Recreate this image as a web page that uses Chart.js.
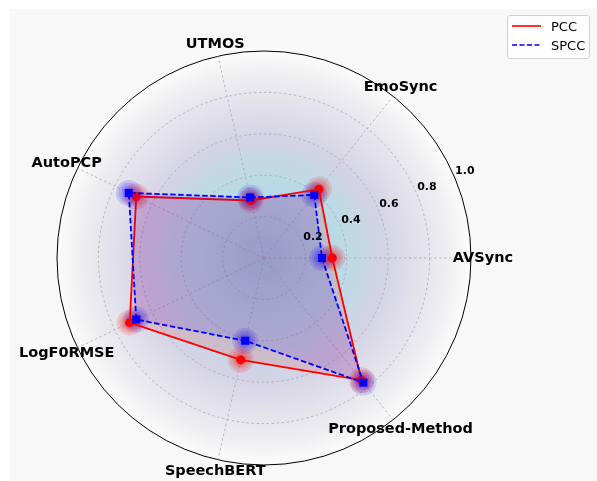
<!DOCTYPE html>
<html>
<head>
<meta charset="utf-8">
<script src="https://cdn.jsdelivr.net/npm/chart.js@4.4.0/dist/chart.umd.min.js"></script>
<style>
  html, body { margin: 0; padding: 0; background: #ffffff; }
  #wrap { position: relative; width: 597px; height: 481px; }
  #legend {
    position: absolute; left: 507px; top: 15px; width: 81px; height: 42px;
    border: 1px solid #d0d0d0; border-radius: 3px; background: rgba(255,255,255,0.85);
    font-family: "DejaVu Sans", sans-serif; font-size: 13px; color: #000;
  }
  .row { position: absolute; left: 4px; height: 16px; display: flex; align-items: center; }
  .row span { margin-left: 10px; }
</style>
</head>
<body>
<div id="wrap">
  <canvas id="radar" width="597" height="481"></canvas>
  <div id="legend">
    <div class="row" style="top:2px"><svg width="29" height="4"><line x1="0" y1="2" x2="29" y2="2" stroke="#ff0000" stroke-width="1.6"/></svg><span>PCC</span></div>
    <div class="row" style="top:21px"><svg width="29" height="4"><line x1="0" y1="2" x2="29" y2="2" stroke="#0000ff" stroke-width="1.6" stroke-dasharray="5,2.5"/></svg><span>SPCC</span></div>
  </div>
</div>
<script>
// categories listed clockwise starting at the right (Chart.js draws clockwise)
const categories = ['AVSync', 'Proposed-Method', 'SpeechBERT', 'LogF0RMSE', 'AutoPCP', 'UTMOS', 'EmoSync'];
const pccValues  = [0.33, 0.755, 0.505, 0.72, 0.685, 0.285, 0.425];
const spccValues = [0.28, 0.77, 0.41, 0.685, 0.725, 0.30, 0.39];
const tickValues = [0.2, 0.4, 0.6, 0.8, 1.0];
const tickLabels = ['0.2', '0.4', '0.6', '0.8', '1.0'];

// glow layers behind the markers
function glowSets(values, rgb, baseOrder) {
    return [13, 10.5, 8, 6].map((r, i) => ({
        label: 'glow',
        data: values,
        showLine: false,
        fill: false,
        borderColor: 'rgba(0,0,0,0)',
        borderWidth: 0,
        pointRadius: r,
        pointBorderWidth: 0,
        pointBackgroundColor: `rgba(${rgb},0.13)`,
        order: baseOrder + i
    }));
}

// background, gradient disc, labels
const decorPlugin = {
    id: 'decor',
    beforeDraw(chart) {
        const ctx = chart.ctx;
        const s = chart.scales.r;
        ctx.save();
        ctx.fillStyle = '#f8f8f8';
        ctx.fillRect(10, 9, 587, 472);
        const g = ctx.createRadialGradient(s.xCenter, s.yCenter, 0, s.xCenter, s.yCenter, s.drawingArea);
        g.addColorStop(0.0, 'rgb(160,204,220)');
        g.addColorStop(0.3, 'rgb(180,217,229)');
        g.addColorStop(0.42, 'rgb(190,218,229)');
        g.addColorStop(0.58, 'rgb(212,211,229)');
        g.addColorStop(0.76, 'rgb(228,226,234)');
        g.addColorStop(0.9, 'rgb(240,240,242)');
        g.addColorStop(1.0, 'rgb(252,252,252)');
        ctx.fillStyle = g;
        ctx.beginPath();
        ctx.arc(s.xCenter, s.yCenter, s.drawingArea, 0, Math.PI * 2);
        ctx.fill();
        ctx.restore();
    },
    afterDraw(chart) {
        const ctx = chart.ctx;
        const s = chart.scales.r;
        ctx.save();
        ctx.fillStyle = '#000';
        ctx.textAlign = 'center';
        ctx.textBaseline = 'middle';
        ctx.font = 'bold 14.5px "DejaVu Sans"';
        categories.forEach((c, i) => {
            const p = s.getPointPosition(i, s.drawingArea + 12);
            ctx.fillText(c, p.x, p.y);
        });
        ctx.font = 'bold 11px "DejaVu Sans"';
        const a = 23.5 * Math.PI / 180;
        tickValues.forEach((v, i) => {
            const d = s.getDistanceFromCenterForValue(v) + 12;
            ctx.fillText(tickLabels[i], s.xCenter + d * Math.cos(a), s.yCenter - d * Math.sin(a));
        });
        ctx.restore();
    }
};

new Chart(document.getElementById('radar'), {
    type: 'radar',
    data: {
        labels: categories,
        datasets: [
            {
                label: 'PCC',
                data: pccValues,
                borderColor: '#ff0000',
                borderWidth: 1.8,
                backgroundColor: 'rgba(255,0,0,0.12)',
                fill: true,
                pointStyle: 'circle',
                pointRadius: 4.5,
                pointBorderWidth: 0,
                pointBackgroundColor: '#ff0000',
                order: 2
            },
            {
                label: 'SPCC',
                data: spccValues,
                borderColor: '#0000ff',
                borderWidth: 1.8,
                borderDash: [5.5, 2.5],
                backgroundColor: 'rgba(0,0,255,0.12)',
                fill: true,
                pointStyle: 'rect',
                pointRadius: 5.7,
                pointBorderWidth: 0,
                pointBackgroundColor: '#0000ff',
                order: 1
            },
            ...glowSets(pccValues, '255,0,0', 10),
            ...glowSets(spccValues, '0,0,255', 10)
        ]
    },
    options: {
        responsive: false,
        animation: false,
        events: [],
        layout: { padding: { left: 57, right: 126, top: 51, bottom: 16 } },
        elements: { line: { tension: 0 } },
        scales: {
            r: {
                min: 0,
                max: 1,
                startAngle: 90,
                ticks: { stepSize: 0.2, display: false },
                pointLabels: { display: false },
                grid: {
                    circular: true,
                    color: (c) => c.tick && c.tick.value >= 1 ? '#000000' : '#aaaaaa',
                    lineWidth: (c) => c.tick && c.tick.value >= 1 ? 1 : 0.8
                },
                border: { dash: (c) => c.tick && c.tick.value >= 1 ? [] : [2.5, 2.5] },
                angleLines: { color: '#aaaaaa', lineWidth: 0.8, borderDash: [2.5, 2.5] }
            }
        },
        plugins: {
            legend: { display: false },
            tooltip: { enabled: false }
        }
    },
    plugins: [decorPlugin]
});
</script>
</body>
</html>
